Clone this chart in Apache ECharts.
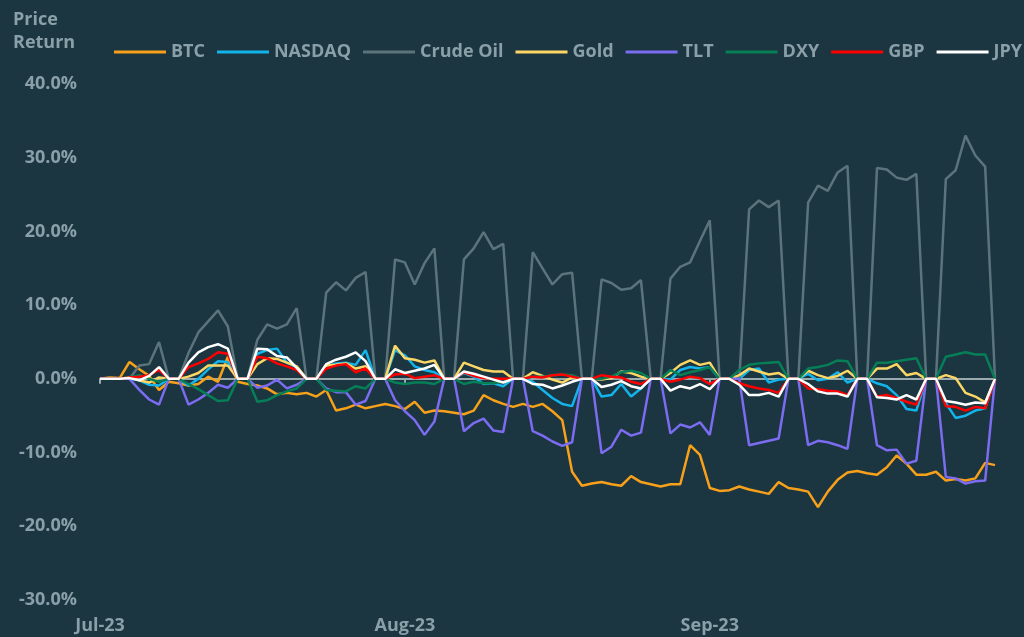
<!DOCTYPE html>
<html>
<head>
<meta charset="utf-8">
<script src="https://cdn.jsdelivr.net/npm/echarts@6/dist/echarts.min.js"></script>
<style>
html,body{margin:0;padding:0;background:#1b3541;}
#chart{width:1024px;height:637px;}
</style>
</head>
<body>
<div id="chart"></div>
<script>
// Daily dates Jul 1 2023 .. Sep 30 2023 (92 days)
const startDate = '2023-07-01';
const dayCount = 92;
const tickLabels = ['Jul-23', 'Aug-23', 'Sep-23'];
const seriesNames = ['BTC', 'NASDAQ', 'Crude Oil', 'Gold', 'TLT', 'DXY', 'GBP', 'JPY'];

const btc = [0,0.2,0.1,2.3,1.3,0.4,-1.5,-0.4,-0.6,-0.9,-0.7,0.3,-0.4,3.0,-0.4,-0.7,-0.9,-1.3,-2.1,-1.9,-2.1,-1.9,-2.4,-1.5,-4.3,-4.0,-3.5,-4.0,-3.7,-3.4,-3.7,-4.1,-3.1,-4.6,-4.3,-4.4,-4.6,-4.8,-4.3,-2.2,-2.9,-3.4,-3.8,-3.4,-3.8,-3.4,-4.4,-5.6,-12.6,-14.5,-14.2,-14.0,-14.3,-14.5,-13.2,-14.0,-14.3,-14.6,-14.3,-14.3,-9.0,-10.3,-14.8,-15.2,-15.1,-14.6,-15.0,-15.3,-15.6,-14.0,-14.8,-15.0,-15.3,-17.4,-15.3,-13.7,-12.7,-12.5,-12.8,-13.0,-12.0,-10.4,-11.5,-13.0,-13.0,-12.6,-13.8,-13.6,-13.8,-13.5,-11.4,-11.7];
const nasdaq = [0,0,0,0,-0.2,-0.8,-0.9,0,0,-0.9,0,1.3,2.4,2.3,0,0,3.4,3.9,4.1,2.2,1.6,0,0,1.7,2.1,2.2,1.9,3.9,0,0,3.9,3.2,1.7,1.2,0.9,0,0,0.8,0.3,-0.7,-0.6,-1.0,0,0,-0.4,-1.5,-2.6,-3.4,-3.7,0,0,-2.4,-2.2,-0.7,-2.4,-1.3,0,0,-0.1,1.2,1.6,1.4,1.6,0,0,0,1.2,1.4,-0.5,-0.1,0,0,0.7,-0.2,0,0.9,-0.5,0,0,-0.6,-1.0,-2.2,-4.1,-4.3,0,0,-3.3,-5.3,-5.0,-4.3,-4.0,0];
const crudeOil = [0,0,0,0,1.8,2.0,5.0,0,0,3.5,6.3,7.8,9.3,7.1,0,0,5.3,7.4,6.8,7.4,9.6,0,0,11.7,13.1,12.0,13.7,14.5,0,0,16.2,15.8,12.8,15.7,17.7,0,0,16.2,17.7,19.9,17.6,18.3,0,0,17.2,15.0,12.8,14.2,14.4,0,0,13.5,13.0,12.1,12.3,13.4,0,0,13.6,15.2,15.8,18.7,21.5,0,0,0,23.0,24.2,23.3,24.2,0,0,23.9,26.2,25.5,28.0,28.9,0,0,28.6,28.4,27.3,27.0,27.8,0,0,27.1,28.3,33.0,30.3,28.8,0];
const gold = [0,0,0,0.2,-0.2,-0.5,0.2,0,0,0.3,0.8,1.8,1.8,1.8,0,0,2.0,2.8,2.7,2.2,1.7,0,0,1.8,1.9,2.1,1.4,1.7,0,0,4.5,2.8,2.6,2.2,2.5,0,0,2.2,1.7,1.2,1.0,1.0,0,0,0.9,0.4,-0.1,-0.5,0.2,0,0,-0.1,0.1,1.0,0.8,0.3,0,0,0.8,1.9,2.5,1.9,2.2,0,0,0.5,1.4,1.0,0.6,0.8,0,0,1.1,0.5,0.1,0.4,1.1,0,0,1.4,1.4,2.0,0.5,0.8,0,0,0.5,0.1,-1.9,-2.4,-3.2,0];
const tlt = [0,0,0,0,-1.5,-2.8,-3.5,0,0,-3.5,-2.8,-1.9,-0.8,-1.2,0,0,-1.2,-0.9,-0.1,-1.3,-0.8,0,0,-1.3,-1.8,-1.8,-3.5,-3.0,0,0,-2.9,-4.4,-5.6,-7.6,-5.8,0,0,-7.1,-6.0,-5.4,-7.0,-7.2,0,0,-7.1,-7.7,-8.5,-9.1,-8.6,0,0,-10.1,-9.2,-6.9,-7.7,-7.3,0,0,-7.4,-6.2,-6.6,-5.9,-7.6,0,0,0,-9.0,-8.7,-8.4,-8.1,0,0,-9.0,-8.4,-8.6,-9.0,-9.5,0,0,-9.0,-9.7,-9.6,-11.5,-11.1,0,0,-13.3,-13.5,-14.2,-13.9,-13.8,0];
const dxy = [0,0,0,0.2,0.5,0.0,-0.4,0,0,-0.7,-1.4,-2.2,-3.0,-2.9,0,0,-3.1,-2.9,-2.2,-1.7,-1.3,0,0,-1.5,-1.6,-1.7,-1.0,-1.3,0,0,-0.5,-0.7,-0.5,-0.5,-0.7,0,0,-0.7,-0.4,-0.6,-0.6,-0.4,0,0,0.3,0.3,0.5,0.6,0.5,0,0,0,0.3,0.9,1.1,0.8,0,0,1.2,0.5,0.9,1.2,1.6,0,0,1.2,1.9,2.1,2.2,2.3,0,0,1.4,1.6,1.9,2.5,2.4,0,0,2.2,2.2,2.4,2.6,2.8,0,0,3.0,3.3,3.6,3.3,3.3,0];
const gbp = [0,0,0,0.2,0.3,0.5,1.2,0,0,1.6,2.1,2.7,3.6,3.4,0,0,3.0,2.8,2.1,1.7,1.2,0,0,1.4,1.8,2.0,0.9,1.4,0,0,0.6,0.7,0.1,0.3,0.5,0,0,0.9,0.4,0.1,0.0,0.0,0,0,0.3,0.2,0.5,0.6,0.3,0,0,0.5,0.3,0.2,-0.4,-0.7,0,0,-0.4,-0.1,0.3,0.1,-0.7,0,0,-0.6,-1.0,-1.3,-1.5,-1.9,0,0,-1.3,-1.4,-1.6,-1.7,-2.2,0,0,-2.4,-2.2,-2.6,-3.1,-3.5,0,0,-3.7,-3.8,-4.3,-3.8,-4.0,0];
const jpy = [0,0,0,0.1,-0.2,0.4,1.6,0,0,2.2,3.6,4.3,4.7,4.1,0,0,4.1,4.0,3.1,2.9,1.5,0,0,2.0,2.6,3.0,3.6,2.4,0,0,1.3,0.8,1.1,1.4,1.9,0,0,1.0,0.7,0.3,-0.1,-0.5,0,0,-0.7,-0.8,-1.3,-0.9,-0.4,0,0,-1.1,-0.8,-0.3,-1.0,-1.3,0,0,-1.6,-1.0,-1.3,-0.7,-1.4,0,0,-0.8,-2.2,-2.2,-1.9,-2.4,0,0,-0.7,-1.7,-2.0,-2.0,-2.4,0,0,-2.5,-2.6,-2.8,-2.2,-2.8,0,0,-3.0,-3.2,-3.5,-3.2,-3.3,0];

const seriesData = [btc, nasdaq, crudeOil, gold, tlt, dxy, gbp, jpy];
const seriesColors = ['#f7a11a', '#12b4ea', '#5b747c', '#fcd765', '#7b6cf0', '#067f57', '#ff0000', '#ffffff'];

// build category list (calendar days)
const categories = [];
const labelMap = {};
{
  const d0 = new Date(startDate + 'T00:00:00Z');
  let m = 0;
  for (let i = 0; i < dayCount; i++) {
    const d = new Date(d0.getTime() + i * 86400000);
    categories.push(d.toISOString().slice(0, 10));
    if (d.getUTCDate() === 1) { labelMap[i] = tickLabels[m++]; }
  }
}

const textColor = '#8aa0a8';
const fontFam = '"Open Sans", "Noto Sans", sans-serif';
const fs = 18;

const chart = echarts.init(document.getElementById('chart'), null, {renderer: 'canvas'});
chart.setOption({
  backgroundColor: '#1b3541',
  animation: false,
  title: {
    text: 'Price\nReturn',
    left: 8, top: 3,
    textStyle: {color: textColor, fontFamily: fontFam, fontWeight: 'bold', fontSize: fs, lineHeight: 23}
  },
  legend: {
    left: 109, top: 38, width: 1100,
    icon: 'rect', itemWidth: 52, itemHeight: 3, itemGap: 12,
    textStyle: {color: textColor, fontFamily: fontFam, fontWeight: 'bold', fontSize: fs},
    data: seriesNames
  },
  grid: {left: 100, right: 29, top: 84, bottom: 37},
  xAxis: [{
    type: 'category', data: categories, boundaryGap: false,
    axisLine: {onZero: true, lineStyle: {color: '#9aabb0', width: 2}},
    axisTick: {show: true, length: 5, lineStyle: {color: '#9aabb0', width: 2},
      interval: (i) => labelMap[i] !== undefined || i === dayCount - 1},
    axisLabel: {show: false},
    splitLine: {show: false}
  }, {
    type: 'category', data: categories, boundaryGap: false, position: 'bottom',
    axisLine: {show: false, onZero: false}, axisTick: {show: false},
    axisLabel: {
      show: true, margin: 17, color: textColor, fontFamily: fontFam, fontWeight: 'bold', fontSize: fs,
      interval: (i) => labelMap[i] !== undefined,
      formatter: (v, i) => labelMap[i] || ''
    },
    splitLine: {show: false}
  }],
  yAxis: {
    type: 'value', min: -30, max: 40, interval: 10,
    axisLine: {show: false}, axisTick: {show: false}, splitLine: {show: false},
    axisLabel: {margin: 23, color: textColor, fontFamily: fontFam, fontWeight: 'bold', fontSize: fs,
      formatter: (v) => v.toFixed(1) + '%'}
  },
  series: seriesNames.map((name, k) => ({
    name: name, type: 'line', xAxisIndex: 0, data: seriesData[k],
    showSymbol: false, symbol: 'none',
    color: seriesColors[k],
    lineStyle: {width: 2.5, color: seriesColors[k]},
    emphasis: {disabled: true}
  }))
});
</script>
</body>
</html>
